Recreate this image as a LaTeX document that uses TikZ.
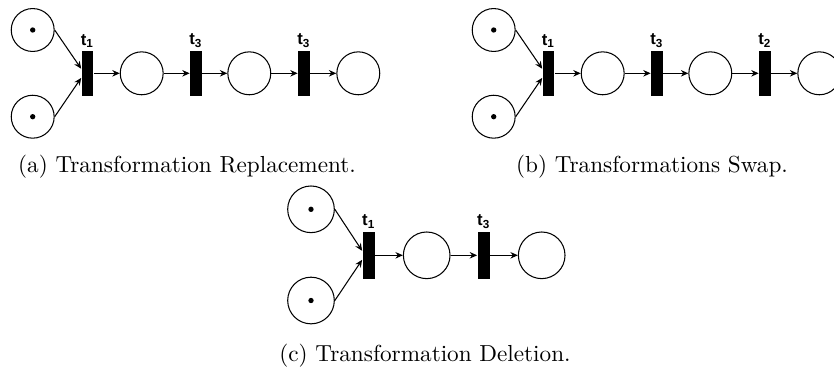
\documentclass[tikz,border=0pt]{standalone}
\usepackage{fontspec}
\newfontfamily\lblfont{Liberation Sans}
\usetikzlibrary{arrows.meta}

\begin{document}
\begin{tikzpicture}[x=0.431pt,y=-0.431pt,line width=0.45pt,>={Stealth[length=3.2pt,width=2.8pt]}]
		\tikzstyle{place} = [shape=circle, draw=black, minimum size=18.5pt, inner sep=0pt]
		\tikzstyle{bigplace} = [place, minimum size=20.1pt]
		\tikzstyle{token} = [shape=circle, fill=black, minimum size=2.3pt, inner sep=0pt]
		\tikzstyle{trans} = [shape=rectangle, fill=black, minimum width=5pt, minimum height=19.3pt, inner sep=0pt]
		\tikzstyle{bigtrans} = [trans, minimum width=5.3pt, minimum height=20.4pt]
		\tikzstyle{tlabel} = [anchor=south, inner sep=1pt, font=\lblfont\bfseries\fontsize{7.2}{8}\selectfont]
		\tikzstyle{caption} = [anchor=base]
	    \useasboundingbox (0,0) rectangle (834,367);
	    % (a) replacement
	    \node[place] (a1) at (32.7,30) {};
	    \node[token] (a1k) at (a1) {};
	    \node[place] (a2) at (32.7,116.7) {};
	    \node[token] (a2k) at (a2) {};
	    \node[trans] (at1) at (87.5,73.3) {};
	    \node[place] (a3) at (141.7,73.3) {};
	    \node[trans] (at2) at (196,73.3) {};
	    \node[place] (a4) at (249.3,73.3) {};
	    \node[trans] (at3) at (304,73.3) {};
	    \node[place] (a5) at (358.3,73.3) {};
	    \node[tlabel] (at1l) at (at1.north) {t\textsubscript{1}};
	    \node[tlabel] (at2l) at (at2.north) {t\textsubscript{3}};
	    \node[tlabel] (at3l) at (at3.north) {t\textsubscript{3}};
	    \path [->](a1.east) edge (at1.144);
	    \path [->](a2.east) edge (at1.216);
	    \path [->](at1) edge (a3);
	    \path [->](a3) edge (at2);
	    \path [->](at2) edge (a4);
	    \path [->](a4) edge (at3);
	    \path [->](at3) edge (a5);
	    \node[caption] (acap) at (187,172) {(a) Transformation Replacement.};
	    % (b) swap
	    \node[place] (b1) at (493.7,30) {};
	    \node[token] (b1k) at (b1) {};
	    \node[place] (b2) at (493.7,116.7) {};
	    \node[token] (b2k) at (b2) {};
	    \node[trans] (bt1) at (548.5,73.3) {};
	    \node[place] (b3) at (602.7,73.3) {};
	    \node[trans] (bt2) at (657,73.3) {};
	    \node[place] (b4) at (710.3,73.3) {};
	    \node[trans] (bt3) at (765,73.3) {};
	    \node[place] (b5) at (819.3,73.3) {};
	    \node[tlabel] (bt1l) at (bt1.north) {t\textsubscript{1}};
	    \node[tlabel] (bt2l) at (bt2.north) {t\textsubscript{3}};
	    \node[tlabel] (bt3l) at (bt3.north) {t\textsubscript{2}};
	    \path [->](b1.east) edge (bt1.144);
	    \path [->](b2.east) edge (bt1.216);
	    \path [->](bt1) edge (b3);
	    \path [->](b3) edge (bt2);
	    \path [->](bt2) edge (b4);
	    \path [->](b4) edge (bt3);
	    \path [->](bt3) edge (b5);
	    \node[caption] (bcap) at (652,172) {(b) Transformations Swap.};
	    % (c) deletion
	    \node[bigplace] (c1) at (311,209.3) {};
	    \node[token] (c1k) at (c1) {};
	    \node[bigplace] (c2) at (311,300.5) {};
	    \node[token] (c2k) at (c2) {};
	    \node[bigtrans] (ct1) at (368.8,255.3) {};
	    \node[bigplace] (c3) at (426.7,255.3) {};
	    \node[bigtrans] (ct2) at (483.8,255.3) {};
	    \node[bigplace] (c4) at (541.7,255.3) {};
	    \node[tlabel] (ct1l) at (ct1.north) {t\textsubscript{1}};
	    \node[tlabel] (ct2l) at (ct2.north) {t\textsubscript{3}};
	    \path [->](c1.east) edge (ct1.146);
	    \path [->](c2.east) edge (ct1.214);
	    \path [->](ct1) edge (c3);
	    \path [->](c3) edge (ct2);
	    \path [->](ct2) edge (c4);
	    \node[caption] (ccap) at (425,361) {(c) Transformation Deletion.};
	\end{tikzpicture}
\end{document}
